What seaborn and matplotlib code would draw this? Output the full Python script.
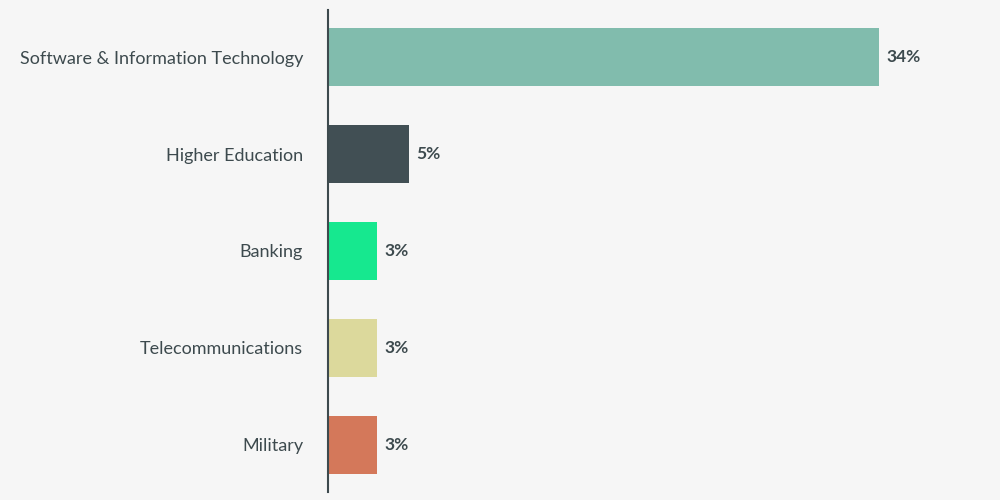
import matplotlib
matplotlib.use("Agg")
import matplotlib.pyplot as plt
import seaborn as sns
import pandas as pd

industries = ["Software & Information Technology", "Higher Education", "Banking",
              "Telecommunications", "Military"]
shares = [34, 5, 3, 3, 3]
colors = ["#81bcad", "#414f54", "#16e88f", "#dcd99c", "#d4785a"]

df = pd.DataFrame({"industry": industries, "share": shares})

bg = "#f6f6f6"
txt = "#3d4a4e"
plt.rcParams["font.family"] = "Lato"

fig = plt.figure(figsize=(10, 5), dpi=100, facecolor=bg)
ax = fig.add_axes([0.328, 0.016, 0.652, 0.964], facecolor=bg)

sns.barplot(data=df, x="share", y="industry", hue="industry", palette=colors,
            width=0.6, legend=False, ax=ax, saturation=1)

for i, v in enumerate(shares):
    ax.text(v + 0.45, i, f"{v}%", va="center", ha="left", fontsize=12.5,
            fontweight="bold", color=txt)

ax.set_xlim(0, 40.2)
ax.set_ylim(4.485, -0.485)
ax.set_xlabel("")
ax.set_ylabel("")
ax.set_xticks([])
for s in ["top", "right", "bottom"]:
    ax.spines[s].set_visible(False)
ax.spines["left"].set_color(txt)
ax.spines["left"].set_linewidth(1.5)
ax.tick_params(axis="y", length=0, pad=18, labelsize=13, labelcolor=txt)

fig.savefig("out.png", dpi=100, facecolor=bg)
